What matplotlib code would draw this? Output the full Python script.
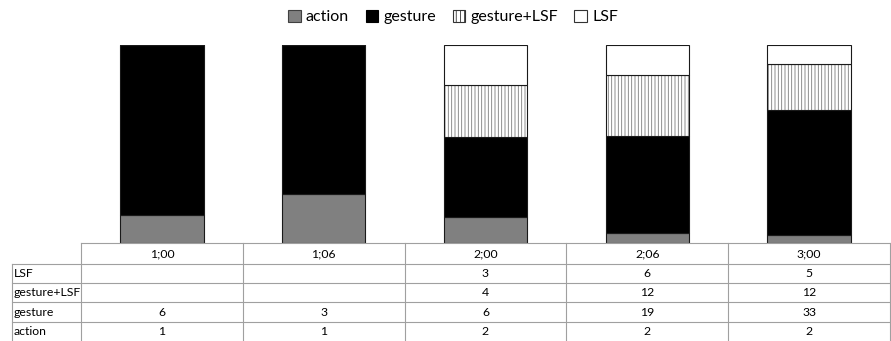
import matplotlib
matplotlib.use("Agg")
import matplotlib.pyplot as plt
from matplotlib.patches import Patch
import numpy as np

plt.rcParams['font.family'] = ['Lato', 'DejaVu Sans']
plt.rcParams['hatch.linewidth'] = 0.6

ages = ["1;00", "1;06", "2;00", "2;06", "3;00"]
series = ["action", "gesture", "gesture+LSF", "LSF"]
action = [1, 1, 2, 2, 2]
gesture = [6, 3, 6, 19, 33]
gesture_lsf = [0, 0, 4, 12, 12]
lsf = [0, 0, 3, 6, 5]
table_rows = ["LSF", "gesture+LSF", "gesture", "action"]

W, H = 891, 341
fig = plt.figure(figsize=(W / 100, H / 100), dpi=100)

# geometry in pixels
tx0, tx1 = 81, 890    # data columns span
lx0 = 12              # row label column left edge
ty_top = 243          # table top / axes bottom
plot_top = 45
head_h = 21
row_h = 19.2

ax = fig.add_axes([tx0 / W, 1 - ty_top / H, (tx1 - tx0) / W, (ty_top - plot_top) / H])
ax.set_xlim(0, len(ages))
ax.set_ylim(0, 1)
ax.axis('off')

vals = np.array([action, gesture, gesture_lsf, lsf], dtype=float)
tot = vals.sum(axis=0)
frac = vals / tot
x = np.arange(len(ages)) + 0.5
bw = 0.515
colors = ['#808080', '#000000', '#ffffff', '#ffffff']
bottom = np.zeros(len(ages))
for i, s in enumerate(series):
    if s == "gesture+LSF":
        ax.bar(x, frac[i], bw, bottom=bottom, color='white', edgecolor='#7a7a7a',
               hatch='|||||', linewidth=0)
        ax.bar(x, frac[i], bw, bottom=bottom, fill=False, edgecolor='#1a1a1a', linewidth=0.8)
    else:
        ax.bar(x, frac[i], bw, bottom=bottom, color=colors[i], edgecolor='#1a1a1a', linewidth=0.8)
    bottom += frac[i]

# table
tax = fig.add_axes([0, 0, 1, 1])
tax.set_xlim(0, W)
tax.set_ylim(H, 0)
tax.axis('off')
lc = '#a0a0a0'
lw = 0.8
ncol = len(ages)
cw = (tx1 - tx0) / ncol
ys = [ty_top + head_h + r * row_h for r in range(len(table_rows))]
# horizontal lines
tax.plot([tx0, tx1], [ty_top, ty_top], color=lc, lw=lw)
for y in ys:
    tax.plot([lx0, tx1], [y, y], color=lc, lw=lw)
# vertical lines
for c in range(ncol + 1):
    xx = tx0 + c * cw
    tax.plot([xx, xx], [ty_top, H], color=lc, lw=lw)
tax.plot([lx0, lx0], [ys[0], H], color=lc, lw=lw)

fs = 8.8
for c, a in enumerate(ages):
    tax.text(tx0 + (c + 0.5) * cw, ty_top + 0.5 * head_h, a, ha='center', va='center', fontsize=fs)
row_data = {"LSF": lsf, "gesture+LSF": gesture_lsf, "gesture": gesture, "action": action}
for r, name in enumerate(table_rows):
    yc = ys[r] + 0.5 * row_h
    tax.text(lx0 + 2, yc, name, ha='left', va='center', fontsize=fs)
    for c, v in enumerate(row_data[name]):
        if v:
            tax.text(tx0 + (c + 0.5) * cw, yc, str(v), ha='center', va='center', fontsize=fs)

handles = [
    Patch(facecolor='#808080', edgecolor='#404040', lw=0.8),
    Patch(facecolor='#000000', edgecolor='#000000', lw=0.8),
    Patch(facecolor='white', edgecolor='#333333', hatch='||||', lw=0.8),
    Patch(facecolor='white', edgecolor='#333333', lw=0.8),
]
fig.legend(handles, series, loc='center', bbox_to_anchor=(453 / W, 1 - 17 / H), ncol=4,
           frameon=False, fontsize=11.5, handlelength=0.8, handleheight=0.8,
           handletextpad=0.3, columnspacing=1.05)

fig.savefig('out.png', dpi=100)
